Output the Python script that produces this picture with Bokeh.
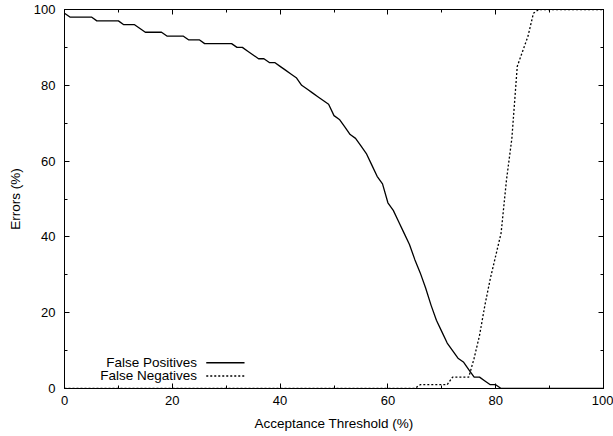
from bokeh.plotting import figure
from bokeh.models import Range1d, FixedTicker, LinearAxis, Label, Arrow, CustomJSTickFormatter
from bokeh.embed import file_html
from bokeh.resources import INLINE

# Data
threshold = list(range(0, 101))
false_positives = [
    99, 98, 98, 98, 98, 98, 97, 97, 97, 97,      # 0-9
    97, 96, 96, 96, 95, 94, 94, 94, 94, 93,      # 10-19
    93, 93, 93, 92, 92, 92, 91, 91, 91, 91,      # 20-29
    91, 91, 90, 90, 89, 88, 87, 87, 86, 86,      # 30-39
    85, 84, 83, 82, 80, 79, 78, 77, 76, 75,      # 40-49
    72, 71, 69, 67, 66, 64, 62, 59, 56, 54,      # 50-59
    49, 47, 44, 41, 38, 34, 30.5, 26.5, 22, 18,  # 60-69
    15, 12, 10, 8, 7, 5, 3, 3, 2, 1,             # 70-79
    1, 0, 0, 0, 0, 0, 0, 0, 0, 0,                # 80-89
    0, 0, 0, 0, 0, 0, 0, 0, 0, 0,                # 90-99
    0,                                           # 100
]
false_negatives = [
    0, 0, 0, 0, 0, 0, 0, 0, 0, 0,
    0, 0, 0, 0, 0, 0, 0, 0, 0, 0,
    0, 0, 0, 0, 0, 0, 0, 0, 0, 0,
    0, 0, 0, 0, 0, 0, 0, 0, 0, 0,
    0, 0, 0, 0, 0, 0, 0, 0, 0, 0,
    0, 0, 0, 0, 0, 0, 0, 0, 0, 0,
    0, 0, 0, 0, 0, 0, 1, 1, 1, 1,               # 60-69
    1, 1, 3, 3, 3, 3, 8, 14, 22, 29,            # 70-79
    35, 41, 55, 66, 85, 89, 93, 99, 100, 100,   # 80-89
    100, 100, 100, 100, 100, 100, 100, 100, 100, 100,
    100,
]
major_ticks = [0, 20, 40, 60, 80, 100]
minor_ticks = [10, 30, 50, 70, 90]
series_names = ["False Positives", "False Negatives"]

FONT = "Liberation Sans"

p = figure(width=613, height=436, x_range=Range1d(0, 100), y_range=Range1d(0, 100),
           output_backend="svg", toolbar_location=None,
           min_border_left=64, min_border_right=10, min_border_top=9, min_border_bottom=48)
p.grid.visible = False
p.outline_line_color = "black"
p.outline_line_width = 1
p.background_fill_color = "white"
p.border_fill_color = "white"

def style_axis(ax, show_labels=True):
    ax.ticker = FixedTicker(ticks=major_ticks, minor_ticks=minor_ticks)
    ax.major_tick_in = 5
    ax.major_tick_out = 0
    ax.minor_tick_in = 3
    ax.minor_tick_out = 0
    ax.axis_line_color = "black"
    ax.major_tick_line_color = "black"
    ax.minor_tick_line_color = "black"
    if show_labels:
        ax.major_label_text_font = FONT
        ax.major_label_text_font_size = "13px"
        ax.major_label_text_color = "black"
        ax.axis_label_text_font = FONT
        ax.axis_label_text_font_size = "13.5px"
        ax.axis_label_text_font_style = "normal"
        ax.axis_label_text_color = "black"
    else:
        ax.formatter = CustomJSTickFormatter(code="return ''")
        ax.major_label_text_font_size = "0px"
        ax.major_label_standoff = 0
        ax.axis_label_standoff = 0

style_axis(p.xaxis[0])
style_axis(p.yaxis[0])
p.xaxis.axis_label = "Acceptance Threshold (%)"
p.yaxis.axis_label = "Errors (%)"
p.xaxis.major_label_standoff = 7
p.xaxis.axis_label_standoff = 8
p.yaxis.major_label_standoff = 9
p.yaxis.axis_label_standoff = 8

right_ax = LinearAxis()
top_ax = LinearAxis()
style_axis(right_ax, show_labels=False)
style_axis(top_ax, show_labels=False)
p.add_layout(right_ax, "right")
p.add_layout(top_ax, "above")

p.line(threshold, false_positives, line_color="black", line_width=1.3)
p.line(threshold, false_negatives, line_color="black", line_width=1.3, line_dash="2 2")

# Legend (gnuplot-style: text left, sample right)
legend_rows = [(series_names[0], 6.8, "solid"), (series_names[1], 3.3, "2 2")]
for name, ypos, dash in legend_rows:
    p.add_layout(Label(x=24.6, y=ypos, text=name, text_align="right", text_baseline="middle",
                       text_font=FONT, text_font_size="13.5px", text_color="black"))
    p.add_layout(Arrow(end=None, x_start=26.3, y_start=ypos, x_end=33.4, y_end=ypos,
                       line_color="black", line_width=1.3, line_dash=dash))

open("out.html", "w").write(file_html(p, INLINE))
